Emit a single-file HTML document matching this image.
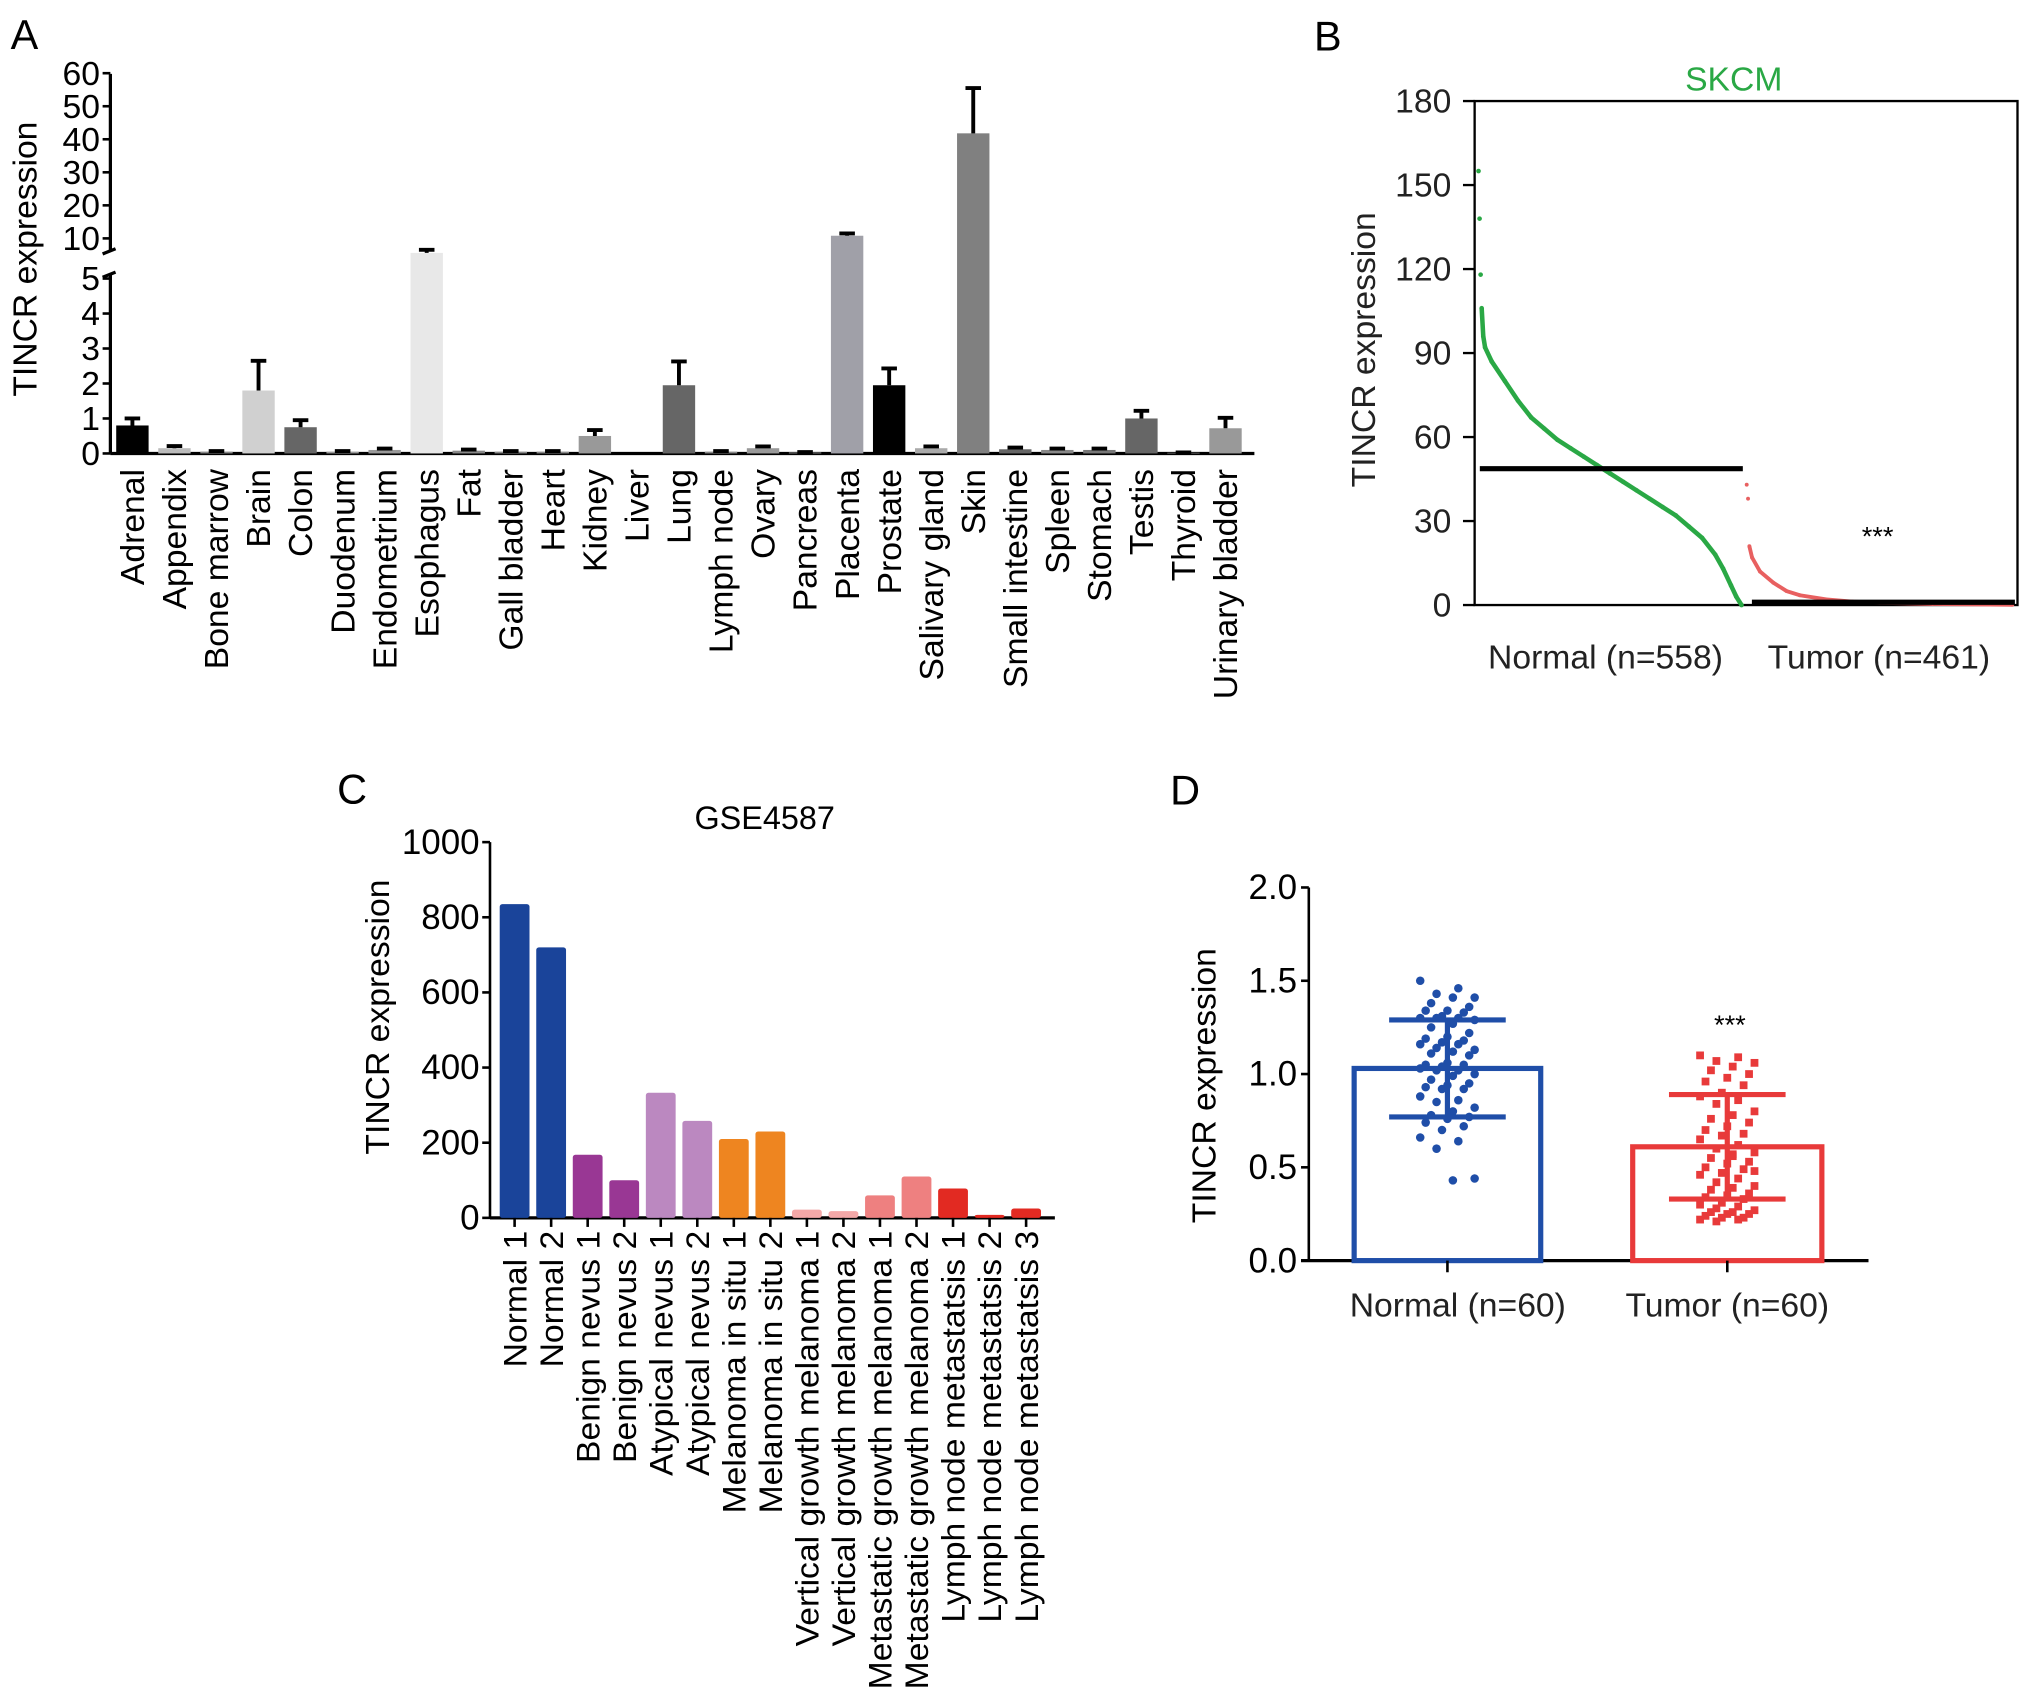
<!DOCTYPE html>
<html><head><meta charset="utf-8"><style>
html,body{margin:0;padding:0;background:#fff;}
svg{display:block;font-family:"Liberation Sans",Arial,sans-serif;}
</style></head><body>
<svg id="fig" width="2032" height="1705" viewBox="0 0 1568 1316" xmlns="http://www.w3.org/2000/svg">
<g id="gA"></g>
<g id="gB"></g>
<g id="gC"></g>
<g id="gD"></g>
</svg>
<script>
// ---- Panel A data ----
const tissues = ["Adrenal","Appendix","Bone marrow","Brain","Colon","Duodenum","Endometrium","Esophagus","Fat","Gall bladder","Heart","Kidney","Liver","Lung","Lymph node","Ovary","Pancreas","Placenta","Prostate","Salivary gland","Skin","Small intestine","Spleen","Stomach","Testis","Thyroid","Urinary bladder"];
const tissueValues = [0.8,0.15,0.05,1.8,0.75,0.05,0.1,8.3,0.08,0.05,0.05,0.5,0,1.95,0.05,0.15,0.03,10.8,1.95,0.15,41.8,0.12,0.1,0.1,1.0,0.02,0.72];
const tissueErrors = [0.2,0.06,0.02,0.85,0.2,0.02,0.04,0.4,0.03,0.02,0.02,0.17,0,0.68,0.02,0.05,0.01,0.7,0.48,0.05,13.7,0.05,0.04,0.04,0.22,0.01,0.3];
const tissueColors = ["#000","#bbb","#888","#d0d0d0","#666","#999","#999","#e8e8e8","#888","#888","#888","#999","#fff","#666","#888","#999","#888","#a0a0a8","#000","#aaa","#808080","#666","#888","#777","#666","#888","#999"];
const aLowTicks = [0,1,2,3,4,5];
const aHighTicks = [10,20,30,40,50,60];
// ---- Panel B data (sorted expression, read at rank fractions) ----
const bNormalRank = [0,0.004,0.008,0.012,0.018,0.025,0.05,0.1,0.15,0.2,0.25,0.3,0.35,0.4,0.45,0.5,0.55,0.6,0.65,0.7,0.75,0.8,0.85,0.9,0.93,0.96,0.98,1];
const bNormalVals = [155,138,118,106,96,92,87,80,73,67,63,59,56,53,50,47,44,41,38,35,32,28,24,18,13,7,3,0];
const bTumorRank = [0,0.005,0.01,0.02,0.05,0.1,0.15,0.2,0.3,0.4,0.5,0.7,1];
const bTumorVals = [43,38,21,17,12,8,5,3.5,2,1.2,0.8,0.4,0.1];
const bMeans = [48.7,1.0];
const bTicks = [0,30,60,90,120,150,180];
// ---- Panel C data ----
const cCats = ["Normal 1","Normal 2","Benign nevus 1","Benign nevus 2","Atypical nevus 1","Atypical nevus 2","Melanoma in situ 1","Melanoma in situ 2","Vertical growth melanoma 1","Vertical growth melanoma 2","Metastatic growth melanoma 1","Metastatic growth melanoma 2","Lymph node metastatsis 1","Lymph node metastatsis 2","Lymph node metastatsis 3"];
const cVals = [835,720,168,100,333,258,210,230,22,18,60,110,78,8,25];
const cColors = ["#1a449a","#1a449a","#993794","#993794","#bb88c0","#bb88c0","#ee8520","#ee8520","#f4a8a8","#f4a8a8","#ee8080","#ee8080","#e22a22","#e22a22","#e22a22"];
const cTicks = [0,200,400,600,800,1000];
// ---- Panel D data ----
const dNormalPts = [1.5,1.46,1.43,1.41,1.41,1.38,1.36,1.34,1.34,1.33,1.31,1.3,1.3,1.3,1.29,1.27,1.25,1.22,1.2,1.19,1.18,1.17,1.16,1.16,1.14,1.13,1.12,1.11,1.1,1.06,1.05,1.05,1.04,1.03,1.02,1.02,1.0,0.99,0.97,0.95,0.94,0.93,0.92,0.92,0.88,0.86,0.85,0.82,0.8,0.78,0.77,0.76,0.74,0.72,0.7,0.66,0.64,0.6,0.44,0.43];
const dTumorPts = [1.1,1.09,1.07,1.06,1.04,1.02,1.0,0.98,0.96,0.94,0.9,0.88,0.86,0.84,0.8,0.78,0.76,0.74,0.72,0.7,0.68,0.67,0.65,0.62,0.6,0.58,0.57,0.55,0.53,0.52,0.5,0.49,0.47,0.46,0.44,0.42,0.4,0.39,0.38,0.36,0.35,0.34,0.33,0.31,0.3,0.29,0.28,0.27,0.26,0.26,0.25,0.25,0.24,0.23,0.23,0.22,0.22,0.21,0.48,0.56];
const dMeans = [1.03,0.61];
const dSD = [0.26,0.28];
const dTicks = [0,0.5,1.0,1.5,2.0];
const dLabels = ["Normal (n=60)","Tumor (n=60)"];

const NS="http://www.w3.org/2000/svg";
function mk(parent,tag,attrs,text){const e=document.createElementNS(NS,tag);for(const k in attrs)e.setAttribute(k,attrs[k]);if(text!==undefined)e.textContent=text;parent.appendChild(e);return e;}

// ===== Panel A =====
(function(){
const g=document.getElementById('gA');
const ax=85, y0=350;
const yLow=v=>y0-v*27;
const yHigh=v=>184-(v-10)*2.55;
const yv=v=>v<=5?yLow(v):(v<=9?yLow(5)-(v-5)/5*30:yHigh(v));
const x=i=>102+i*32.45;
let t=mk(g,'text',{x:8,y:38,'font-size':32},'A');

let a=mk(g,'line',{x1:ax,y1:57,x2:ax,y2:194,stroke:'#000','stroke-width':2.5});

a=mk(g,'line',{x1:ax,y1:211,x2:ax,y2:y0,stroke:'#000','stroke-width':2.5});

mk(g,'line',{x1:ax-6,y1:196,x2:ax+4,y2:192,stroke:'#000','stroke-width':2.5});
mk(g,'line',{x1:ax-6,y1:214,x2:ax+4,y2:210,stroke:'#000','stroke-width':2.5});
a=mk(g,'line',{x1:ax,y1:y0,x2:968,y2:y0,stroke:'#000','stroke-width':2.5});

aLowTicks.forEach(v=>{mk(g,'line',{x1:ax-6,y1:yLow(v),x2:ax,y2:yLow(v),stroke:'#000','stroke-width':2});
 const l=mk(g,'text',{x:ax-8,y:yLow(v)+9,'font-size':26,'text-anchor':'end'},v);
 });
aHighTicks.forEach(v=>{mk(g,'line',{x1:ax-6,y1:yHigh(v),x2:ax,y2:yHigh(v),stroke:'#000','stroke-width':2});
 const l=mk(g,'text',{x:ax-8,y:yHigh(v)+9,'font-size':26,'text-anchor':'end'},v);
 });
t=mk(g,'text',{transform:'translate(28,200) rotate(-90)','font-size':26,'text-anchor':'middle'},'TINCR expression');

tissues.forEach((n,i)=>{
 const v=tissueValues[i],e=tissueErrors[i],cx=x(i),w=25;
 const top=yv(v);
 if(v>0){const b=mk(g,'rect',{x:cx-w/2,y:top,width:w,height:y0-top,fill:tissueColors[i]});
 
 const et=yv(v+e);
 const el=mk(g,'path',{d:`M${cx} ${top} V${et} M${cx-6} ${et} H${cx+6}`,stroke:'#000','stroke-width':3,fill:'none'});
 }
 const l=mk(g,'text',{transform:`translate(${cx+9},362) rotate(-90)`,'font-size':26,'text-anchor':'end'},n);
 
});
})();

// ===== Panel B =====
(function(){
const g=document.getElementById('gB');
const L=1138,R=1557,T=78,B=467;
const y=v=>B-v*(B-T)/180;
const xn=f=>1141+f*203, xt=f=>1348+f*205;
let t=mk(g,'text',{x:1014,y:39,'font-size':32},'B');

t=mk(g,'text',{x:1338,y:70,'font-size':26,'text-anchor':'middle',fill:'#2aa845'},'SKCM');

const f=mk(g,'rect',{x:L,y:T,width:R-L,height:B-T,fill:'none',stroke:'#000','stroke-width':1.8});

bTicks.forEach(v=>{mk(g,'line',{x1:L-9,y1:y(v),x2:L,y2:y(v),stroke:'#000','stroke-width':1.8});
 const l=mk(g,'text',{x:L-18,y:y(v)+9,'font-size':26,'text-anchor':'end',fill:'#222'},v);
 });
t=mk(g,'text',{transform:'translate(1061,270) rotate(-90)','font-size':26,'text-anchor':'middle',fill:'#222'},'TINCR expression');

let p=bNormalRank.slice(3).map((r,i)=>`${xn(r)},${y(bNormalVals[i+3])}`).join(' ');
let pl=mk(g,'polyline',{points:p,fill:'none',stroke:'#2aa845','stroke-width':3.5});

bNormalRank.forEach((r,i)=>{const c=mk(g,'circle',{cx:xn(r),cy:y(bNormalVals[i]),r:1.8,fill:'#2aa845'});
 });
p=bTumorRank.slice(2).map((r,i)=>`${xt(r)},${y(bTumorVals[i+2])}`).join(' ');
pl=mk(g,'polyline',{points:p,fill:'none',stroke:'#e86060','stroke-width':3});

bTumorRank.forEach((r,i)=>{const c=mk(g,'circle',{cx:xt(r),cy:y(bTumorVals[i]),r:1.5,fill:'#e86060'});
 });
let m=mk(g,'line',{x1:1142,y1:y(bMeans[0]),x2:1345,y2:y(bMeans[0]),stroke:'#000','stroke-width':4});

m=mk(g,'line',{x1:1352,y1:y(bMeans[1]),x2:1555,y2:y(bMeans[1]),stroke:'#000','stroke-width':4});

t=mk(g,'text',{x:1449,y:421,'font-size':21,'text-anchor':'middle'},'***');

t=mk(g,'text',{x:1239,y:516,'font-size':26,'text-anchor':'middle',fill:'#222'},'Normal (n=558)');

t=mk(g,'text',{x:1450,y:516,'font-size':26,'text-anchor':'middle',fill:'#222'},'Tumor (n=461)');

})();

// ===== Panel C =====
(function(){
const g=document.getElementById('gC');
const ax=378,y0=940;
const y=v=>y0-v*0.29;
const x=i=>397+i*28.2;
let t=mk(g,'text',{x:260,y:620,'font-size':32},'C');

t=mk(g,'text',{x:590,y:640,'font-size':25,'text-anchor':'middle'},'GSE4587');

let a=mk(g,'line',{x1:ax,y1:650,x2:ax,y2:y0,stroke:'#000','stroke-width':2});

a=mk(g,'line',{x1:ax,y1:y0,x2:814,y2:y0,stroke:'#000','stroke-width':2.5});

cTicks.forEach(v=>{mk(g,'line',{x1:ax-6,y1:y(v),x2:ax,y2:y(v),stroke:'#000','stroke-width':2});
 const l=mk(g,'text',{x:ax-8,y:y(v)+9,'font-size':27,'text-anchor':'end'},v);
 });
t=mk(g,'text',{transform:'translate(300,785) rotate(-90)','font-size':26,'text-anchor':'middle'},'TINCR expression');

cCats.forEach((n,i)=>{const cx=x(i);
 const b=mk(g,'rect',{x:cx-11.5,y:y(cVals[i]),width:23,height:y0-y(cVals[i]),fill:cColors[i],rx:2});
 
 mk(g,'line',{x1:cx,y1:y0,x2:cx,y2:y0+7,stroke:'#000','stroke-width':2});
 const l=mk(g,'text',{transform:`translate(${cx+9},950) rotate(-90) scale(1.04,1)`,'font-size':25,'text-anchor':'end'},n);
 });
})();

// ===== Panel D =====
(function(){
const g=document.getElementById('gD');
const ax=1010,y0=973;
const y=v=>y0-v*144;
const centers=[1117,1333], halfW=[72,73], cols=['#1f4ea8','#e83a3a'];
let t=mk(g,'text',{x:903,y:621,'font-size':32},'D');

let a=mk(g,'line',{x1:ax,y1:685,x2:ax,y2:y0,stroke:'#000','stroke-width':2});

a=mk(g,'line',{x1:ax-6,y1:y0,x2:1442,y2:y0,stroke:'#000','stroke-width':2.5});

dTicks.forEach(v=>{mk(g,'line',{x1:ax-6,y1:y(v),x2:ax,y2:y(v),stroke:'#000','stroke-width':2});
 const l=mk(g,'text',{x:ax-9,y:y(v)+9,'font-size':27,'text-anchor':'end'},v.toFixed(1));
 });
t=mk(g,'text',{transform:'translate(938,838) rotate(-90)','font-size':26,'text-anchor':'middle'},'TINCR expression');

[dNormalPts,dTumorPts].forEach((pts,k)=>{
 const cx=centers[k],c=cols[k];
 const b=mk(g,'rect',{x:cx-halfW[k],y:y(dMeans[k]),width:halfW[k]*2,height:y0-y(dMeans[k]),fill:'none',stroke:c,'stroke-width':4});
 
 mk(g,'line',{x1:cx,y1:y0,x2:cx,y2:y0+9,stroke:'#000','stroke-width':2});
 pts.forEach((v,i)=>{const off=((i*7)%11-5)*4.2;
  let m;
  if(k===0)m=mk(g,'circle',{cx:cx+off,cy:y(v),r:3.3,fill:c});
  else m=mk(g,'rect',{x:cx+off-3,y:y(v)-3,width:6,height:6,fill:c});
  });
 const hi=y(dMeans[k]+dSD[k]),lo=y(dMeans[k]-dSD[k]);
 const e=mk(g,'path',{d:`M${cx} ${hi} V${lo} M${cx-45} ${hi} H${cx+45} M${cx-45} ${lo} H${cx+45}`,stroke:c,'stroke-width':4,fill:'none'});
 
 const l=mk(g,'text',{x:[1125,1333][k],y:1016,'font-size':26,'text-anchor':'middle',fill:'#222'},dLabels[k]);
 
});
t=mk(g,'text',{x:1335,y:798,'font-size':21,'text-anchor':'middle'},'***');

})();
</script>
</body></html>
